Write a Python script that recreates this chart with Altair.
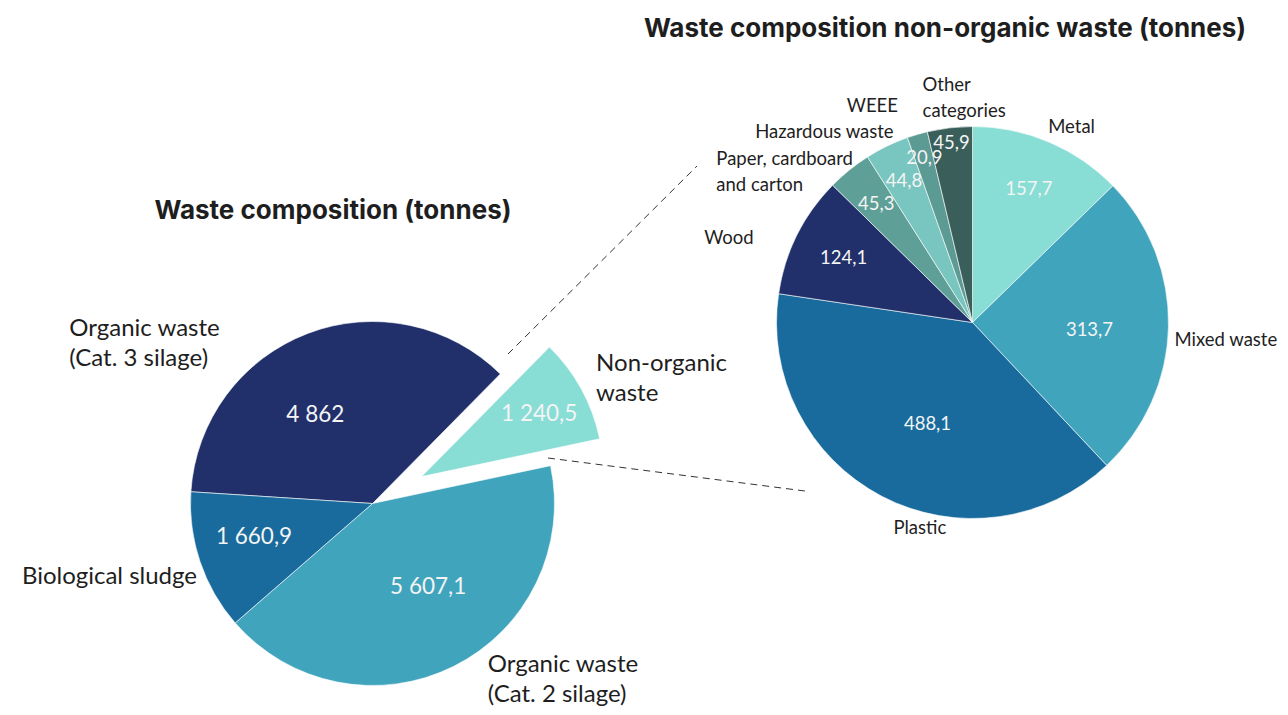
import math
import altair as alt
import pandas as pd

# ---------------- data ----------------
main_categories = ["Organic waste\n(Cat. 3 silage)", "Non-organic\nwaste",
                   "Organic waste\n(Cat. 2 silage)", "Biological sludge"]
main_values = [4862.0, 1240.5, 5607.1, 1660.9]
main_colors = ["#21306a", "#88ddd5", "#40a4bd", "#186b9c"]

sub_categories = ["Metal", "Mixed waste", "Plastic", "Wood",
                  "Paper, cardboard\nand carton", "Hazardous waste", "WEEE",
                  "Other\ncategories"]
sub_values = [157.7, 313.7, 488.1, 124.1, 45.3, 44.8, 20.9, 45.9]
sub_colors = ["#88ddd5", "#40a4bd", "#186b9c", "#21306a",
              "#5e9f97", "#79c5bf", "#5c9b94", "#3a5f5b"]

title_main = "Waste composition (tonnes)"
title_sub = "Waste composition non-organic waste (tonnes)"

# ---------------- layout / style ----------------
FONT = "Lato"
TITLE_FONT = "Inter"
W, H = 1272, 699
OFF = 8
LABEL_COLOR = "#1e1e1e"
VALUE_COLOR = "#f4f4f4"


def px(v):
    return v - OFF


color_scale = alt.Scale(domain=main_categories + sub_categories,
                        range=main_colors + sub_colors)


def pie_base(cats, vals):
    df = pd.DataFrame({"cat": cats, "value": vals, "idx": list(range(len(cats)))})
    return (alt.Chart(df)
            .transform_window(cum="sum(value)", sort=[alt.SortField("idx")])
            .transform_calculate(start="datum.cum - datum.value",
                                 mid="datum.cum - datum.value / 2"))


def theta_scale(vals, start_deg):
    a = math.radians(start_deg)
    return alt.Scale(domain=[0, sum(vals)], range=[a, a + 2 * math.pi])


def explode_center(vals, i, start_deg, cx, cy, dist):
    total = sum(vals)
    frac = (sum(vals[:i]) + vals[i] / 2) / total
    ang = math.radians(start_deg + 360 * frac)
    return cx + dist * math.sin(ang), cy - dist * math.cos(ang)


def arcs(base, sc, cx, cy, r, where):
    return base.transform_filter(where).mark_arc(
        radius=r, stroke="#ffffff", strokeWidth=0.6
    ).encode(
        theta=alt.Theta("start:Q", scale=sc, stack=False),
        theta2=alt.Theta2("cum:Q"),
        color=alt.Color("cat:N", scale=color_scale, legend=None),
        x=alt.value(px(cx)), y=alt.value(px(cy)),
    )


def slice_text(base, sc, idx, cx, cy, radius, size, color, align="center",
               dx=0, dy=0, value=False, lh=None, nlines=1):
    txt = alt.Text("value:Q", format=",.1~f") if value else alt.Text("cat:N")
    # centre a multi-line block vertically on its anchor
    shift = -(nlines - 1) * (lh or size) / 2
    mk = dict(radius=radius, align=align, baseline="middle", dx=dx, dy=dy + shift,
              font=FONT, fontSize=size, color=color, lineBreak="\n")
    if lh:
        mk["lineHeight"] = lh
    return base.transform_filter(f"datum.idx == {idx}").mark_text(**mk).encode(
        theta=alt.Theta("mid:Q", scale=sc, stack=False),
        text=txt,
        x=alt.value(px(cx)), y=alt.value(px(cy)),
    )


def free_text(txt, x, y, size, weight="normal", font=FONT, align="center",
              baseline="alphabetic"):
    return alt.Chart(pd.DataFrame({"t": [txt]})).mark_text(
        font=font, fontSize=size, fontWeight=weight, color=LABEL_COLOR,
        align=align, baseline=baseline
    ).encode(text="t:N", x=alt.value(px(x)), y=alt.value(px(y)))


def dashed(p1, p2):
    return alt.Chart(pd.DataFrame({"a": [0]})).mark_rule(
        color="#333333", strokeWidth=1, strokeDash=[7, 5]
    ).encode(x=alt.value(px(p1[0])), y=alt.value(px(p1[1])),
             x2=alt.value(px(p2[0])), y2=alt.value(px(p2[1])))


layers = []

# ---------------- main pie ----------------
M_CX, M_CY, M_R, M_START = 372.5, 503.5, 182, -86.3
EXPLODE = 1
m_base = pie_base(main_categories, main_values)
m_sc = theta_scale(main_values, M_START)
ecx, ecy = explode_center(main_values, EXPLODE, M_START, M_CX, M_CY, 56)

layers.append(arcs(m_base, m_sc, M_CX, M_CY, M_R, f"datum.idx != {EXPLODE}"))
layers.append(arcs(m_base, m_sc, ecx, ecy, M_R, f"datum.idx == {EXPLODE}"))

M_VAL = 22.5
M_LAB = 24
m_value_pos = {0: (110, -18, 14), 1: (134, 0, 2), 2: (100, 11, -6), 3: (124, -1, -6)}
for i, (rad, dx, dy) in m_value_pos.items():
    cx, cy = (ecx, ecy) if i == EXPLODE else (M_CX, M_CY)
    layers.append(slice_text(m_base, m_sc, i, cx, cy, rad, M_VAL, VALUE_COLOR,
                             dx=dx, dy=dy, value=True))
m_label_pos = {0: (200, "left", -232, 27), 1: (200, "left", -1, -2),
               2: (200, "left", 26, -2), 3: (200, "right", 14, 10)}
for i, (rad, al, dx, dy) in m_label_pos.items():
    cx, cy = (ecx, ecy) if i == EXPLODE else (M_CX, M_CY)
    layers.append(slice_text(m_base, m_sc, i, cx, cy, rad, M_LAB, LABEL_COLOR,
                             align=al, dx=dx, dy=dy, lh=30,
                             nlines=main_categories[i].count("\n") + 1))

# ---------------- sub pie ----------------
S_CX, S_CY, S_R, S_START = 972.5, 322.5, 196, 0
s_base = pie_base(sub_categories, sub_values)
s_sc = theta_scale(sub_values, S_START)
layers.append(arcs(s_base, s_sc, S_CX, S_CY, S_R, "true"))

S_VAL = 18.5
S_LAB = 18.5
s_value_pos = {0: (145, 0, 0), 1: (117, 0, 5), 2: (110, 6, 4), 3: (144, 0, 0),
               4: (153, 0, 0), 5: (157, 0, 0), 6: (171, 0, 0), 7: (181, 0, 0)}
for i, (rad, dx, dy) in s_value_pos.items():
    layers.append(slice_text(s_base, s_sc, i, S_CX, S_CY, rad, S_VAL, VALUE_COLOR,
                             dx=dx, dy=dy, value=True))
s_label_pos = {0: (210, "left", -6, -2), 1: (206, "left", -4, 13),
               2: (215, "center", 47, 15), 3: (240, "right", -4, 22),
               4: (215, "left", -121, 17), 5: (215, "right", 15, 3),
               6: (215, "right", -14, -10), 7: (215, "left", -25, -11)}
for i, (rad, al, dx, dy) in s_label_pos.items():
    layers.append(slice_text(s_base, s_sc, i, S_CX, S_CY, rad, S_LAB, LABEL_COLOR,
                             align=al, dx=dx, dy=dy, lh=26,
                             nlines=sub_categories[i].count("\n") + 1))

# ---------------- titles & connectors ----------------
layers.append(free_text(title_sub, 945, 37, 26, weight="bold", font=TITLE_FONT))
layers.append(free_text(title_main, 333, 219, 26, weight="bold", font=TITLE_FONT))
layers.append(dashed((508, 354), (697, 166)))
layers.append(dashed((548, 458), (805, 491)))

chart = alt.layer(*layers).resolve_scale(theta="independent").properties(
    width=W, height=H, padding=0,
    autosize=alt.AutoSizeParams(type="none"),
).configure(
    view=alt.ViewConfig(strokeWidth=0),
    locale=alt.Locale(number=alt.NumberLocale(decimal=",", thousands=" ",
                                              grouping=[3], currency=["", ""])),
)

chart.save("out.html", embed_options={"renderer": "svg", "actions": False})
